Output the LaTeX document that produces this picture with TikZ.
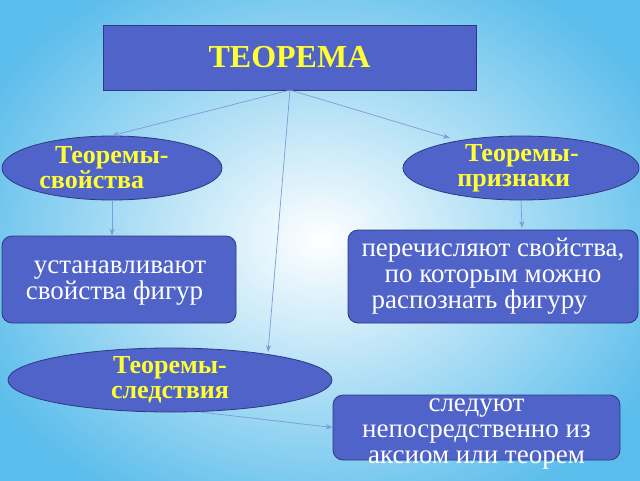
\documentclass[tikz,border=0pt]{standalone}
\usepackage{fontspec}
\setmainfont{Liberation Serif}
\usetikzlibrary{shapes.geometric,arrows.meta}
\definecolor{bx}{HTML}{4F63C9}
\definecolor{bd}{HTML}{2E3A80}
\definecolor{yl}{HTML}{FFFF33}
\definecolor{ar}{HTML}{7D9BD6}
\definecolor{bgo}{HTML}{5BBDEB}
\tikzset{
 ov/.style={ellipse,draw=bd,line width=0.8pt,fill=bx},
 ovt/.style={text=yl,font=\bfseries\fontsize{26}{25}\selectfont,align=left,inner sep=0pt},
 rb/.style={rectangle,rounded corners=10pt,draw=bd,line width=0.8pt,fill=bx},
 rbt/.style={text=white,font=\fontsize{27}{26}\selectfont,align=center,inner sep=0pt},
 con/.style={draw=ar,line width=0.7pt,-{Stealth[length=7pt,width=5pt]}}
}
\begin{document}
\begin{tikzpicture}[x=1pt,y=-1pt]
\useasboundingbox (0,0) rectangle (640,480);
\shade[inner color=white,outer color=bgo] (-60,-60) rectangle (700,540);
\node[rectangle,draw=bd,line width=0.8pt,fill=bx,text=yl,font=\bfseries\fontsize{32}{34}\selectfont,minimum width=373pt,minimum height=65pt] (t) at (289.5,57.5) {ТЕОРЕМА};
\node[ov,minimum width=220pt,minimum height=64pt] (e1) at (112,168) {};
\node[ovt] (e1t) at (104,168) {\hspace*{0.6em}Теоремы-\\свойства};
\node[ov,minimum width=236pt,minimum height=64pt] (e2) at (521,168) {};
\node[ovt] (e2t) at (518,168) {\hspace*{0.3em}Теоремы-\\признаки};
\node[rb,minimum width=234pt,minimum height=87pt] (b1) at (119,279.5) {};
\node[rbt,align=left] (b1t) at (116,283) {\hspace*{0.3em}устанавливают\\свойства фигур};
\node[rb,minimum width=290pt,minimum height=93pt] (b2) at (493,276.5) {};
\node[rbt] (b2t) at (493,276) {перечисляют свойства,\\по которым можно\\распознать фигуру\hspace*{1em}};
\node[ov,minimum width=324pt,minimum height=64pt] (e3) at (170,380) {};
\node[ovt,align=center] (e3t) at (170,380) {Теоремы-\\следствия};
\node[rb,minimum width=287pt,minimum height=65pt] (b3) at (476.5,427.5) {};
\node[rbt] (b3t) at (476.5,434) {следуют\\непосредственно из\\аксиом или теорем};
\coordinate (tb) at (290,90);
\draw[con] (tb) -- (e1.north);
\draw[con] (tb) -- (450,138);
\draw[con] (tb) -- (268,352);
\draw[con] (e1.south) -- (b1.north -| e1.south);
\draw[con] (e2.south) -- (522,228);
\draw[con] (200,412) -- (b3.west);
\end{tikzpicture}
\end{document}
